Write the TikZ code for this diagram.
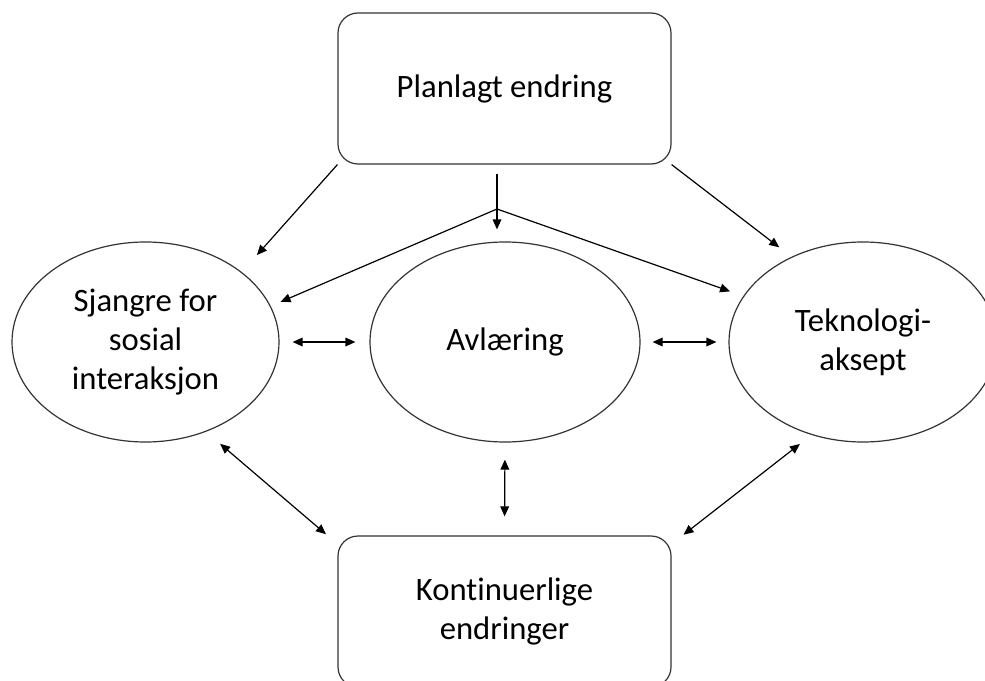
\documentclass[tikz,border=0pt]{standalone}
\usepackage{fontspec}
\setmainfont{Carlito}[RawFeature={-liga;-clig;-dlig}]
\usetikzlibrary{arrows.meta,shapes.geometric}

\tikzset{
	box/.style={draw=black!80, line width=0.9pt, rounded corners=15pt, minimum width=249.75pt, minimum height=113.25pt, inner sep=0pt, align=center, font=\fontsize{24.5}{29.3}\selectfont},
	oval/.style={draw=black!80, line width=0.9pt, ellipse, minimum height=150pt, inner sep=0pt, align=center, font=\fontsize{24.5}{29.3}\selectfont},
	arr/.style={line width=0.9pt, -{Triangle[length=7.5pt,width=6.5pt]}},
	dbl/.style={line width=0.9pt, {Triangle[length=7.5pt,width=6.5pt]}-{Triangle[length=7.5pt,width=6.5pt]}}
}

\begin{document}
\begin{tikzpicture}[x=0.75pt,y=-0.75pt]
	\useasboundingbox (0,0) rectangle (985,681);
	\node[box] (plan) at (504.5,88.5) {Planlagt endring};
	\node[oval, minimum width=200.25pt] (sjangre) at (145.5,342) {Sjangre for\\sosial\\interaksjon};
	\node[oval, minimum width=202.5pt] (avl) at (505,342) {Avlæring};
	\node[oval, minimum width=201pt] (tek) at (863,342) {Teknologi-\\aksept};
	\node[box] (kont) at (504.5,611.5) {Kontinuerlige\\endringer};
	\coordinate (fork) at (497,209);
	\draw[arr, shorten >=17pt] (plan.south west) -- (sjangre.36);
	\draw[arr, shorten >=11.6pt] (plan.south east) -- (tek.130);
	\draw[arr, shorten <=6.75pt, shorten >=9pt] (fork |- plan.south) -- (fork |- avl.north);
	\draw[arr, shorten >=8pt] (fork) -- (sjangre.16);
	\draw[arr, shorten >=10.5pt] (fork) -- (tek.159);
	\draw[dbl, shorten <=9.75pt, shorten >=10.5pt] (sjangre.east) -- (avl.west);
	\draw[dbl, shorten <=9pt, shorten >=9pt] (avl.east) -- (tek.west);
	\draw[dbl, shorten <=13.9pt, shorten >=11.25pt] (sjangre.304) -- (kont.158);
	\draw[dbl, shorten <=12.75pt, shorten >=14.25pt] (avl.south) -- (kont.north);
	\draw[dbl, shorten <=11pt, shorten >=11.3pt] (tek.241) -- (kont.22);
\end{tikzpicture}
\end{document}
